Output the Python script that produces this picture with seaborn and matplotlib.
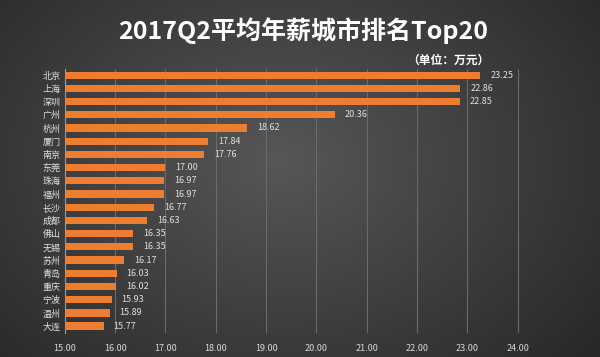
import numpy as np
import pandas as pd
import matplotlib
matplotlib.use("Agg")
import matplotlib.pyplot as plt
import seaborn as sns

cities = ["北京", "上海", "深圳", "广州", "杭州", "厦门", "南京", "东莞", "珠海", "福州",
          "长沙", "成都", "佛山", "无锡", "苏州", "青岛", "重庆", "宁波", "温州", "大连"]
salaries = [23.25, 22.86, 22.85, 20.36, 18.62, 17.84, 17.76, 17.00, 16.97, 16.97,
            16.77, 16.63, 16.35, 16.35, 16.17, 16.03, 16.02, 15.93, 15.89, 15.77]
xticks = [15, 16, 17, 18, 19, 20, 21, 22, 23, 24]

sns.set_theme(style="dark")
plt.rcParams['font.family'] = ['Noto Sans CJK SC', 'DejaVu Sans']

df = pd.DataFrame({"city": cities, "salary": salaries})

fig = plt.figure(figsize=(6, 3.57), dpi=100)

# background radial gradient
bg = fig.add_axes([0, 0, 1, 1], zorder=0)
yy, xx = np.mgrid[0:357, 0:600]
r = np.sqrt(((xx - 280) / 400.0) ** 2 + ((yy - 160) / 300.0) ** 2)
val = np.clip(0.34 - 0.18 * r, 0.13, 0.36)
img = np.dstack([val, val, val])
bg.imshow(img, aspect='auto', extent=[0, 1, 0, 1], origin='upper')
bg.axis('off')

ax = fig.add_axes([0.108, 0.068, 0.797, 0.740], zorder=1)
ax.patch.set_alpha(0)
sns.barplot(data=df, x="salary", y="city", orient="h", color="#ED7D31",
            width=0.55, ax=ax, saturation=1, linewidth=0, zorder=3)

ax.set_xlim(15, 24.5)
ax.set_ylim(19.5, -0.5)
ax.set_xticks(xticks)
ax.set_xticklabels([f"{t:.2f}" for t in xticks], color="#d8d8d8", fontsize=6.5)
ax.tick_params(axis='y', labelsize=6.5, colors="#e0e0e0", length=0, pad=3)
ax.tick_params(axis='x', length=0, pad=8)
ax.set_xlabel("")
ax.set_ylabel("")
ax.grid(axis='x', color="#6a6a6a", linewidth=0.8, zorder=0)
ax.grid(axis='y', visible=False)
for s in ["top", "right", "bottom"]:
    ax.spines[s].set_visible(False)
ax.spines["left"].set_color("#9a9a9a")
ax.spines["left"].set_linewidth(0.8)

for i, v in enumerate(salaries):
    ax.text(v + 0.2, i, f"{v:.2f}", va="center", ha="left", fontsize=6.5, color="#e0e0e0")

fig.text(0.505, 0.915, "2017Q2平均年薪城市排名Top20", ha="center", va="center",
         fontsize=18, fontweight="bold", color="white")
fig.text(0.748, 0.832, "（单位：万元）", ha="center", va="center",
         fontsize=8.5, fontweight="bold", color="white")

fig.savefig("out.png", dpi=100)
